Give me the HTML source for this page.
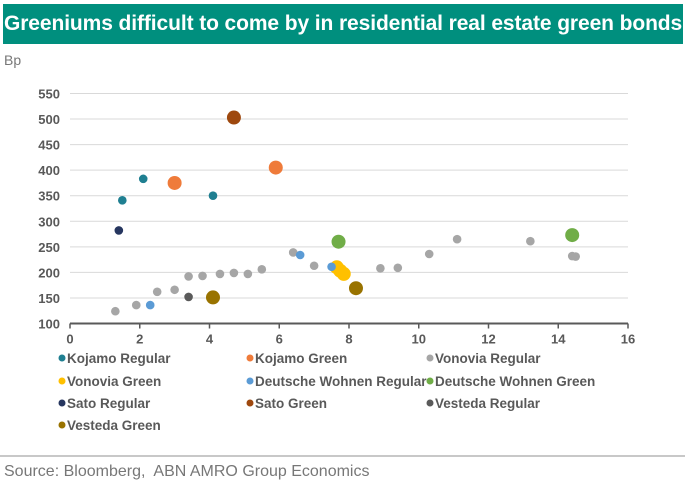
<!DOCTYPE html>
<html><head><meta charset="utf-8"><style>
body{margin:0;width:685px;height:483px;background:#fff;font-family:"Liberation Sans",Arial,sans-serif;overflow:hidden;position:relative}
#title{position:absolute;left:3px;top:4px;width:679px;height:40px;background:#008f7e;color:#fff;font-weight:bold;font-size:21px;line-height:40px;padding-left:1px;white-space:nowrap;letter-spacing:-0.1px}
#unit{position:absolute;left:4px;top:52px;font-size:14px;color:#777}
#src{position:absolute;left:4px;top:463px;font-size:16px;color:#777}
#sep{position:absolute;left:0;top:455px;width:685px;height:2px;background:#c8c8c8}
</style></head><body>
<div id="title">Greeniums difficult to come by in residential real estate green bonds</div>
<div id="unit">Bp</div>
<svg id="chart" width="685" height="450" style="position:absolute;left:0;top:0"></svg>
<div id="sep"></div>
<div id="src">Source: Bloomberg,&nbsp; ABN AMRO Group Economics</div>
<script>
const xTicks=[0,2,4,6,8,10,12,14,16];
const yTicks=[100,150,200,250,300,350,400,450,500,550];
const seriesNames=["Kojamo Regular","Kojamo Green","Vonovia Regular","Vonovia Green","Deutsche Wohnen Regular","Deutsche Wohnen Green","Sato Regular","Sato Green","Vesteda Regular","Vesteda Green"];
const seriesColors=["#1f7f91","#ef7b3a","#a6a6a6","#ffc000","#5b9bd5","#70ad47","#26365f","#9e480e","#5a5a5a","#997300"];
const kojamoRegular=[[1.5,341],[2.1,383],[4.1,350]];
const kojamoGreen=[[3.0,375],[5.9,405]];
const vonoviaRegular=[[1.3,124],[1.9,136],[2.5,162],[3.0,166],[3.4,192],[3.8,193],[4.3,197],[4.7,199],[5.1,197],[5.5,206],[6.4,239],[7.0,213],[8.9,208],[9.4,209],[10.3,236],[11.1,265],[13.2,261],[14.4,232],[14.5,231]];
const vonoviaGreen=[[7.65,210],[7.75,203],[7.85,197]];
const dwRegular=[[2.3,136],[6.6,234],[7.5,211]];
const dwGreen=[[7.7,260],[14.4,273]];
const satoRegular=[[1.4,282]];
const satoGreen=[[4.7,503]];
const vestedaRegular=[[3.4,152]];
const vestedaGreen=[[4.1,151],[8.2,169]];
const allSeries=[kojamoRegular,kojamoGreen,vonoviaRegular,vonoviaGreen,dwRegular,dwGreen,satoRegular,satoGreen,vestedaRegular,vestedaGreen];
const isGreen=[false,true,false,true,false,true,false,true,false,true];
const NS="http://www.w3.org/2000/svg";
const svg=document.getElementById('chart');
const X0=70,X1=628,Y0=323.5,Y1=93.5;
function sx(v){return X0+(v-0)/(16-0)*(X1-X0);}
function sy(v){return Y0-(v-100)/(550-100)*(Y0-Y1);}
function mk(t,a){const e=document.createElementNS(NS,t);for(const k in a)e.setAttribute(k,a[k]);svg.appendChild(e);return e;}
yTicks.forEach(t=>{
  if(t>100){const l=mk('line',{x1:X0,x2:X1,y1:sy(t),y2:sy(t),stroke:'#d9d9d9','stroke-width':1});
  
  }
  const tx=mk('text',{x:X0-10,y:sy(t)+5,'text-anchor':'end','font-size':13,'font-weight':'bold',fill:'#595959','font-family':'Liberation Sans, Arial, sans-serif'});
  tx.textContent=t;
  
  
});
const ax=mk('line',{x1:X0,x2:X1,y1:Y0,y2:Y0,stroke:'#595959','stroke-width':2});


xTicks.forEach(t=>{
  const tk=mk('line',{x1:sx(t),x2:sx(t),y1:Y0,y2:Y0+5,stroke:'#595959','stroke-width':1.5});
  
  
  const tx=mk('text',{x:sx(t),y:Y0+20,'text-anchor':'middle','font-size':13,'font-weight':'bold',fill:'#595959','font-family':'Liberation Sans, Arial, sans-serif'});
  tx.textContent=t;
  
  
});
allSeries.forEach((s,i)=>{
  s.forEach(p=>{
    const c=mk('circle',{cx:sx(p[0]),cy:sy(p[1]),r:isGreen[i]?7:4.3,fill:seriesColors[i]});
    
    
  });
});
const colX=[62,250,430],rowY=[358,381,403,425];
seriesNames.forEach((n,i)=>{
  const cx=colX[i%3],cy=rowY[Math.floor(i/3)];
  const d=mk('circle',{cx:cx,cy:cy,r:3.5,fill:seriesColors[i]});
  
  
  const t=mk('text',{x:cx+5,y:cy+5,'font-size':13.5,'font-weight':'bold',fill:'#595959','font-family':'Liberation Sans, Arial, sans-serif'});
  t.textContent=n;
  
  
});
</script>
</body></html>
